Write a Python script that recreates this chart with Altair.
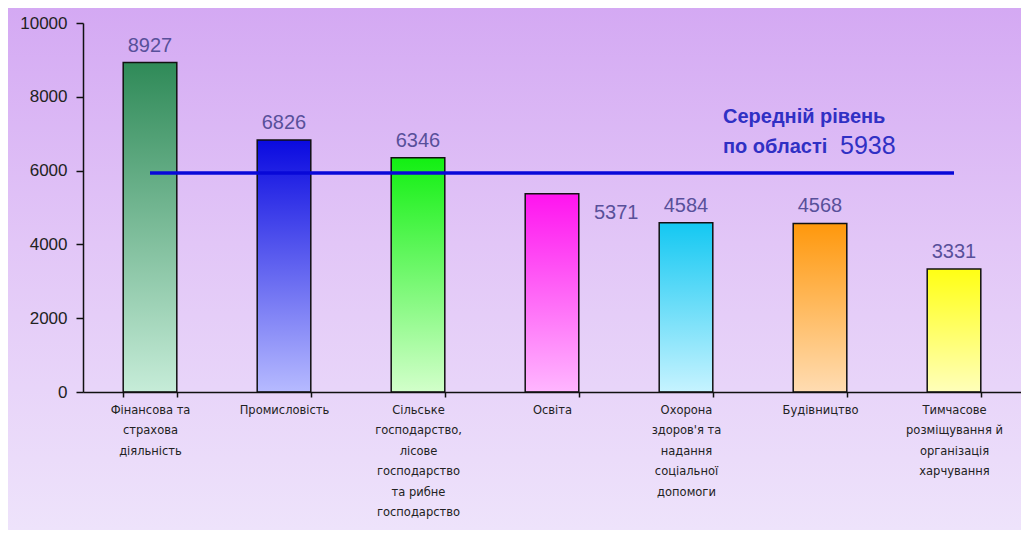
import altair as alt
import pandas as pd

# ---- data ----
categories = [
    "Фінансова та|страхова|діяльність",
    "Промисловість",
    "Сільське|господарство,|лісове|господарство|та рибне|господарство",
    "Освіта",
    "Охорона|здоров'я та|надання|соціальної|допомоги",
    "Будівництво",
    "Тимчасове|розміщування й|організація|харчування",
]
values = [8927, 6826, 6346, 5371, 4584, 4568, 3331]
average_value = 5938
average_label_1 = "Середній рівень"
average_label_2 = "по області"

# ---- styles ----
top_colors = ["#2f8a58", "#0a0ae0", "#12f012", "#ff14ef", "#14c8f2", "#ff980c", "#ffff14"]
bottom_colors = ["#c6ecd8", "#b6baff", "#d2ffca", "#ffb6ff", "#c6f3ff", "#ffdcb2", "#ffffba"]

W, H = 938, 369
PAD_L, PAD_T, PAD_R, PAD_B = 75, 15, 0, 138

df = pd.DataFrame({"cat": categories, "value": values})
avg_df = pd.DataFrame({"start": [categories[0]], "end": [categories[-1]],
                       "value": [average_value], "anchor": [categories[4]]})

x_scale = alt.Scale(domain=categories, paddingInner=0.6, paddingOuter=0.3)
x_axis = alt.Axis(labelAngle=0, labelExpr="split(datum.label, '|')",
                  tickBand="extent", tickSize=5, tickColor="#111",
                  tickWidth=1.5, domainColor="#111", domainWidth=1.5,
                  labelFont="DejaVu Sans", labelFontSize=11.5,
                  labelColor="#222", labelLineHeight=20.5,
                  labelPadding=7, labelBaseline="top", labelLimit=200, zindex=1)
x_enc = alt.X("cat:N", title=None, scale=x_scale, axis=x_axis)
y_scale = alt.Scale(domain=[0, 10000], nice=False)
y_enc = alt.Y("value:Q", title=None, scale=y_scale,
              axis=alt.Axis(values=[0, 2000, 4000, 6000, 8000, 10000], grid=False,
                            format="d",
                            tickSize=7, tickColor="#111", tickWidth=1.5,
                            domainColor="#111", domainWidth=1.5,
                            labelFont="Liberation Sans", labelFontSize=17,
                            labelColor="#222", labelPadding=9, zindex=1))

bg = alt.Chart(alt.Data(values=[{}])).mark_rect(
    fill=alt.Gradient(gradient="linear",
                      stops=[alt.GradientStop(color="#d4a9f3", offset=0),
                             alt.GradientStop(color="#e2c6f7", offset=0.45),
                             alt.GradientStop(color="#eee3fb", offset=1)],
                      x1=0, x2=0, y1=0, y2=1)
).encode(x=alt.value(-PAD_L), x2=alt.value(W + PAD_R),
         y=alt.value(-PAD_T), y2=alt.value(H + PAD_B))

base = alt.Chart(df)

bars = []
for c, tc, bc in zip(categories, top_colors, bottom_colors):
    bars.append(
        base.transform_filter(alt.FieldEqualPredicate(field="cat", equal=c))
        .mark_bar(stroke="#111", strokeWidth=1.5,
                  fill=alt.Gradient(gradient="linear",
                                    stops=[alt.GradientStop(color=tc, offset=0),
                                           alt.GradientStop(color=bc, offset=1)],
                                    x1=0, x2=0, y1=0, y2=1))
        .encode(x=x_enc, y=y_enc)
    )

label_color = "#58509a"
labels_main = base.transform_filter(
    alt.FieldOneOfPredicate(field="cat", oneOf=[c for c in categories if c != "Освіта"])
).mark_text(font="Liberation Sans", fontSize=20, color=label_color,
            baseline="alphabetic", dy=-11).encode(x=x_enc, y=y_enc, text="value:Q")

labels_side = base.transform_filter(
    alt.FieldEqualPredicate(field="cat", equal="Освіта")
).mark_text(font="Liberation Sans", fontSize=20, color=label_color,
            align="left", baseline="middle", dx=42, dy=19).encode(
    x=x_enc, y=y_enc, text="value:Q")

avg = alt.Chart(avg_df)
rule = avg.mark_rule(color="#0808d8", strokeWidth=3.5).encode(
    x=alt.X("start:N", scale=x_scale, axis=x_axis, title=None), x2="end:N",
    y=alt.Y("value:Q", scale=y_scale, title=None))

ann_color = "#3030c4"
ann_x = alt.X("anchor:N", scale=x_scale, axis=x_axis, title=None)
ann_y = alt.Y("value:Q", scale=y_scale, title=None)
ann1 = avg.mark_text(font="Liberation Sans", fontSize=20, fontWeight="bold",
                     color=ann_color, align="left", baseline="middle",
                     dx=37, dy=-56).encode(
    x=ann_x, y=ann_y, text=alt.value(average_label_1))
ann2 = avg.mark_text(font="Liberation Sans", fontSize=20, fontWeight="bold",
                     color=ann_color, align="left", baseline="middle",
                     dx=37, dy=-26).encode(
    x=ann_x, y=ann_y, text=alt.value(average_label_2))
ann3 = avg.mark_text(font="Liberation Sans", fontSize=25, color=ann_color,
                     align="left", baseline="middle", dx=154, dy=-27).encode(
    x=ann_x, y=ann_y, text="value:Q")

chart = alt.layer(bg, *bars, labels_main, labels_side, rule, ann1, ann2, ann3).properties(
    width=W, height=H,
    autosize=alt.AutoSizeParams(type="none"),
    padding={"left": PAD_L, "top": PAD_T, "right": PAD_R, "bottom": PAD_B},
).configure(background="#e6d3f8").configure_view(stroke=None)

chart.save("out.html", embed_options={"renderer": "svg", "actions": False})
